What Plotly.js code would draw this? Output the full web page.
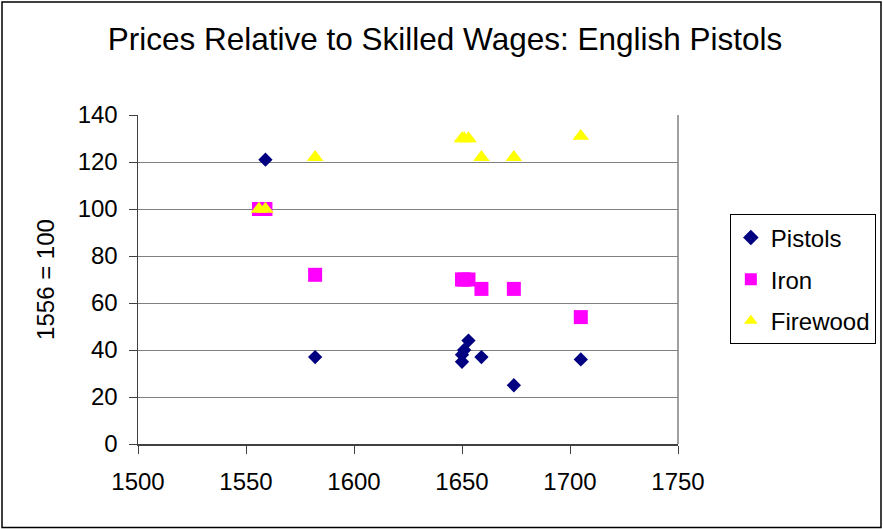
<!DOCTYPE html>
<html>
<head>
<meta charset="utf-8">
<script src="https://cdn.plot.ly/plotly-3.0.1.min.js"></script>
<style>
html,body{margin:0;padding:0;background:#fff;}
#chart{width:883px;height:529px;}
</style>
</head>
<body>
<div id="chart"></div>
<script>
// Data (1556 = 100)
const pistolYears = [1556, 1559, 1582, 1650, 1650, 1651, 1653, 1659, 1674, 1705];
const pistolValues = [100, 121, 37, 35, 38, 40, 44, 37, 25, 36];
const ironYears = [1556, 1559, 1582, 1650, 1651, 1653, 1659, 1674, 1705];
const ironValues = [100, 100, 72, 70, 70, 70, 66, 66, 54];
const firewoodYears = [1556, 1559, 1582, 1650, 1651, 1653, 1659, 1674, 1705];
const firewoodValues = [100, 100, 122, 130, 130, 130, 122, 122, 131];
const seriesNames = ["Pistols", "Iron", "Firewood"];
const xTicks = [1500, 1550, 1600, 1650, 1700, 1750];
const yTicks = [0, 20, 40, 60, 80, 100, 120, 140];

const FONT = "Liberation Sans, Arial, sans-serif";

const traces = [
  {x: pistolYears, y: pistolValues, name: seriesNames[0], legendgroup: "a",
   type: "scatter", mode: "markers",
   marker: {symbol: "diamond", size: 11, color: "#000080"}},
  {x: ironYears, y: ironValues, name: seriesNames[1], legendgroup: "b",
   type: "scatter", mode: "markers",
   marker: {symbol: "square", size: 14, color: "#FF00FF"}},
  {x: firewoodYears, y: firewoodValues, name: seriesNames[2], legendgroup: "c",
   type: "scatter", mode: "markers",
   marker: {symbol: "triangle-up", size: 14.5, color: "#FFFF00"}}
];

const layout = {
  width: 883, height: 529,
  margin: {l: 138, r: 205, t: 115, b: 85, pad: 0, autoexpand: false},
  paper_bgcolor: "#ffffff", plot_bgcolor: "#ffffff",
  font: {family: FONT, size: 24, color: "#000000"},
  title: {text: "Prices Relative to Skilled Wages: English Pistols",
          font: {family: FONT, size: 31.5, color: "#000000"},
          x: 0.504, xref: "container", xanchor: "center",
          y: 0.926, yref: "container", yanchor: "middle"},
  xaxis: {range: [1500, 1750], tickvals: xTicks, ticktext: xTicks.map(String),
          showgrid: false, zeroline: false, automargin: false,
          showline: true, linecolor: "#404040", linewidth: 1.5,
          ticks: "outside", ticklen: 8, tickcolor: "#404040", tickwidth: 1,
          ticklabelstandoff: 8,
          tickfont: {family: FONT, size: 24, color: "#000000"}},
  yaxis: {range: [0, 140], tickvals: yTicks, ticktext: yTicks.map(String),
          showgrid: true, gridcolor: "#808080", gridwidth: 1,
          zeroline: false, automargin: false,
          showline: true, linecolor: "#404040", linewidth: 1.5,
          ticks: "outside", ticklen: 8, tickcolor: "#404040", tickwidth: 1,
          ticklabelstandoff: 6,
          tickfont: {family: FONT, size: 24, color: "#000000"},
          title: {text: "1556 = 100", standoff: 16,
                  font: {family: FONT, size: 24, color: "#000000"}}},
  legend: {x: 1.096, y: 0.698, xanchor: "left", yanchor: "top",
           bgcolor: "#ffffff", bordercolor: "#000000", borderwidth: 1,
           font: {family: FONT, size: 24, color: "#000000"},
           traceorder: "grouped", tracegroupgap: 7.5, itemsizing: "constant"},
  showlegend: true,
  shapes: [
    {type: "line", xref: "paper", yref: "paper", x0: 1, x1: 1, y0: 0, y1: 1,
     line: {color: "#808080", width: 1.5}},
    {type: "rect", xref: "paper", yref: "paper",
     x0: (2 - 138) / 540, x1: (881 - 138) / 540,
     y0: (444 - 527.5) / 329, y1: (444 - 2) / 329,
     line: {color: "#000000", width: 1.5}, fillcolor: "rgba(0,0,0,0)"}
  ]
};

Plotly.newPlot("chart", traces, layout, {displayModeBar: false, staticPlot: true});
</script>
</body>
</html>
